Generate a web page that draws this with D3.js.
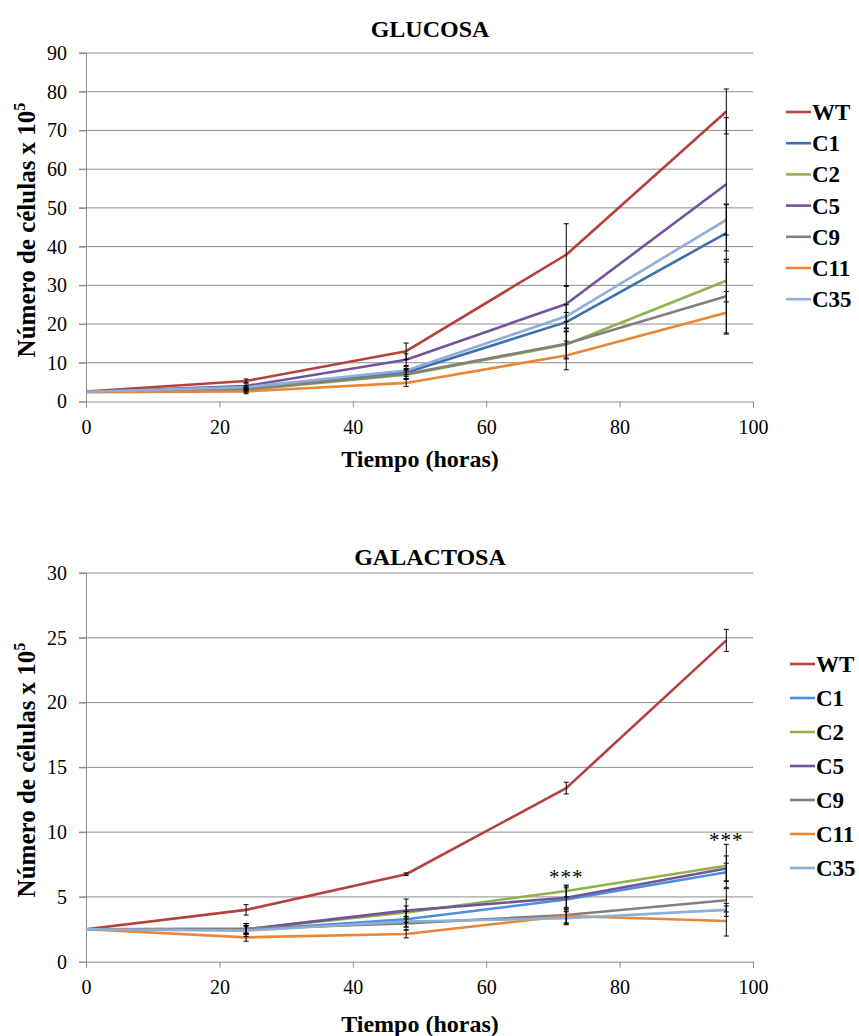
<!DOCTYPE html>
<html>
<head>
<meta charset="utf-8">
<script src="https://cdn.jsdelivr.net/npm/d3@7"></script>
<style>
  body { margin: 0; background: #fff; }
  svg text { font-family: "Liberation Serif", Tinos, "Times New Roman", Times, serif; fill: #000; }
</style>
</head>
<body>
<div id="chart"></div>
<script>
// ---------------- data ----------------
const hours = [0, 24, 48, 72, 96];
const strains = ["WT", "C1", "C2", "C5", "C9", "C11", "C35"];

// GLUCOSA: means per strain (same order as strains)
const glucosaMeans = [
  [2.6, 5.3, 13.0, 37.9, 74.9],
  [2.5, 3.4, 7.5, 20.5, 43.5],
  [2.5, 3.0, 6.9, 14.7, 31.2],
  [2.5, 4.0, 10.8, 25.2, 56.1],
  [2.5, 3.2, 7.1, 14.9, 27.2],
  [2.4, 2.6, 4.8, 11.9, 22.9],
  [2.5, 3.7, 8.0, 22.0, 46.9]
];
const glucosaErrors = [
  [0, 0.5, 2.1, 8.0, 5.8],
  [0, 0.6, 1.0, 2.5, 7.5],
  [0, 0.6, 1.0, 3.5, 5.5],
  [0, 0.8, 1.5, 4.5, 17.2],
  [0, 0.5, 1.2, 3.9, 9.5],
  [0, 0.6, 0.9, 3.7, 5.5],
  [0, 0.5, 1.0, 3.0, 3.9]
];

// GALACTOSA
const galactosaMeans = [
  [2.5, 4.0, 6.75, 13.4, 24.8],
  [2.5, 2.45, 3.27, 4.8, 6.9],
  [2.5, 2.5, 3.8, 5.46, 7.4],
  [2.5, 2.5, 3.94, 4.94, 7.2],
  [2.5, 2.55, 2.96, 3.6, 4.74],
  [2.5, 1.88, 2.14, 3.53, 3.14],
  [2.5, 2.4, 3.1, 3.35, 4.0]
];
const galactosaErrors = [
  [0, 0.4, 0.1, 0.45, 0.85],
  [0, 0.5, 0.6, 0.9, 0.7],
  [0, 0.3, 0.5, 0.45, 1.66],
  [0, 0.3, 0.9, 0.9, 0.96],
  [0, 0.4, 0.5, 0.6, 0.9],
  [0, 0.3, 0.3, 0.6, 1.16],
  [0, 0.3, 0.4, 0.5, 0.5]
];
// significance marks: hour and level (y value) where they sit
const galactosaStarHours = [72, 96];
const galactosaStarLevels = [6.8, 9.65];

const xTicks = [0, 20, 40, 60, 80, 100];
const glucosaTicks = [0, 10, 20, 30, 40, 50, 60, 70, 80, 90];
const galactosaTicks = [0, 5, 10, 15, 20, 25, 30];

// ---------------- colors ----------------
const colorsTop = ["#B4413E", "#3D6FAE", "#8DB44A", "#73549B", "#808080", "#EB8637", "#8EAED6"];
const colorsBottom = ["#B4413E", "#4C8FDC", "#8DB44A", "#73549B", "#808080", "#EB8637", "#8EAED6"];

const serif = "'Liberation Serif', Tinos, 'Times New Roman', Times, serif";

// ---------------- svg ----------------
const svg = d3.select("#chart").append("svg")
  .attr("width", 859)
  .attr("height", 1036);

const x = d3.scaleLinear().domain([0, 100]).range([86, 753]);

function drawPanel(opts) {
  const y = d3.scaleLinear().domain([0, opts.ymax]).range([opts.y0, opts.y1]);
  const g = svg.append("g");

  // gridlines (with small outward tick on the left)
  g.selectAll(".grid")
    .data(opts.yTicks.filter(d => d > 0))
    .enter().append("line")
    .attr("x1", x(0) - 7).attr("x2", x(100))
    .attr("y1", d => y(d)).attr("y2", d => y(d))
    .attr("stroke", "#8c8c8c").attr("stroke-width", 1);

  // y axis
  const yAxis = g.append("g")
    .attr("transform", `translate(${x(0)},0)`)
    .call(d3.axisLeft(y).tickValues(opts.yTicks).tickSize(7).tickPadding(12));
  yAxis.attr("font-family", null).attr("font-size", null);
  yAxis.select(".domain").attr("stroke", "#8c8c8c");
  yAxis.selectAll(".tick line").attr("stroke", "#8c8c8c");
  yAxis.selectAll("text").style("font-size", "20px").style("font-family", serif);

  // x axis
  const xAxis = g.append("g")
    .attr("transform", `translate(0,${y(0)})`)
    .call(d3.axisBottom(x).tickValues(xTicks).tickSize(6).tickPadding(12));
  xAxis.attr("font-family", null).attr("font-size", null);
  xAxis.select(".domain").attr("stroke", "#8c8c8c");
  xAxis.selectAll(".tick line").attr("stroke", "#8c8c8c");
  xAxis.selectAll("text").style("font-size", "20px").style("font-family", serif);

  // title
  g.append("text")
    .attr("x", 430).attr("y", opts.titleY)
    .attr("text-anchor", "middle")
    .attr("font-weight", "bold").attr("font-size", 24)
    .text(opts.title);

  // axis titles
  g.append("text")
    .attr("x", 420).attr("y", opts.xTitleY)
    .attr("text-anchor", "middle")
    .attr("font-weight", "bold").attr("font-size", 24)
    .text("Tiempo (horas)");

  const yt = g.append("text")
    .attr("transform", `translate(35,${opts.yTitleY}) rotate(-90)`)
    .attr("text-anchor", "middle")
    .attr("font-weight", "bold").attr("font-size", 25);
  yt.append("tspan").text("Número de células x 10");
  yt.append("tspan").attr("font-size", 16).attr("dy", -10).text("5");

  // lines
  const line = d3.line()
    .x((d, i) => x(hours[i]))
    .y(d => y(d));

  opts.means.forEach((vals, s) => {
    g.append("path")
      .datum(vals)
      .attr("d", line)
      .attr("fill", "none")
      .attr("stroke", opts.colors[s])
      .attr("stroke-width", 2.6)
      .attr("stroke-linejoin", "round");
  });

  // error bars
  opts.means.forEach((vals, s) => {
    vals.forEach((v, i) => {
      const e = opts.errors[s][i];
      if (!e) return;
      const cx = x(hours[i]);
      g.append("line")
        .attr("x1", cx).attr("x2", cx)
        .attr("y1", y(v - e)).attr("y2", y(v + e))
        .attr("stroke", "#000").attr("stroke-width", 1);
      [v - e, v + e].forEach(t => {
        g.append("line")
          .attr("x1", cx - 2.5).attr("x2", cx + 2.5)
          .attr("y1", y(t)).attr("y2", y(t))
          .attr("stroke", "#000").attr("stroke-width", 1);
      });
    });
  });

  // legend
  strains.forEach((name, s) => {
    const ly = opts.legendY0 + s * opts.legendStep;
    g.append("line")
      .attr("x1", opts.legendX).attr("x2", opts.legendX + 25)
      .attr("y1", ly).attr("y2", ly)
      .attr("stroke", opts.colors[s]).attr("stroke-width", 2.6);
    g.append("text")
      .attr("x", opts.legendX + 26).attr("y", ly)
      .attr("dy", "0.35em")
      .attr("font-weight", "bold").attr("font-size", 23)
      .text(name);
  });

  return { g, y };
}

drawPanel({
  title: "GLUCOSA", titleY: 37,
  ymax: 90, y0: 401.5, y1: 53, yTicks: glucosaTicks,
  xTitleY: 467, yTitleY: 230,
  means: glucosaMeans, errors: glucosaErrors, colors: colorsTop,
  legendX: 786, legendY0: 112, legendStep: 31.2
});

const bottom = drawPanel({
  title: "GALACTOSA", titleY: 565,
  ymax: 30, y0: 961.7, y1: 573, yTicks: galactosaTicks,
  xTitleY: 1032, yTitleY: 770,
  means: galactosaMeans, errors: galactosaErrors, colors: colorsBottom,
  legendX: 790, legendY0: 664, legendStep: 34
});

// significance stars
galactosaStarHours.forEach((h, k) => {
  bottom.g.append("text")
    .attr("x", x(h)).attr("y", bottom.y(galactosaStarLevels[k]) + 10)
    .attr("text-anchor", "middle")
    .attr("font-size", 21)
    .attr("letter-spacing", 1)
    .text("***");
});
</script>
</body>
</html>
